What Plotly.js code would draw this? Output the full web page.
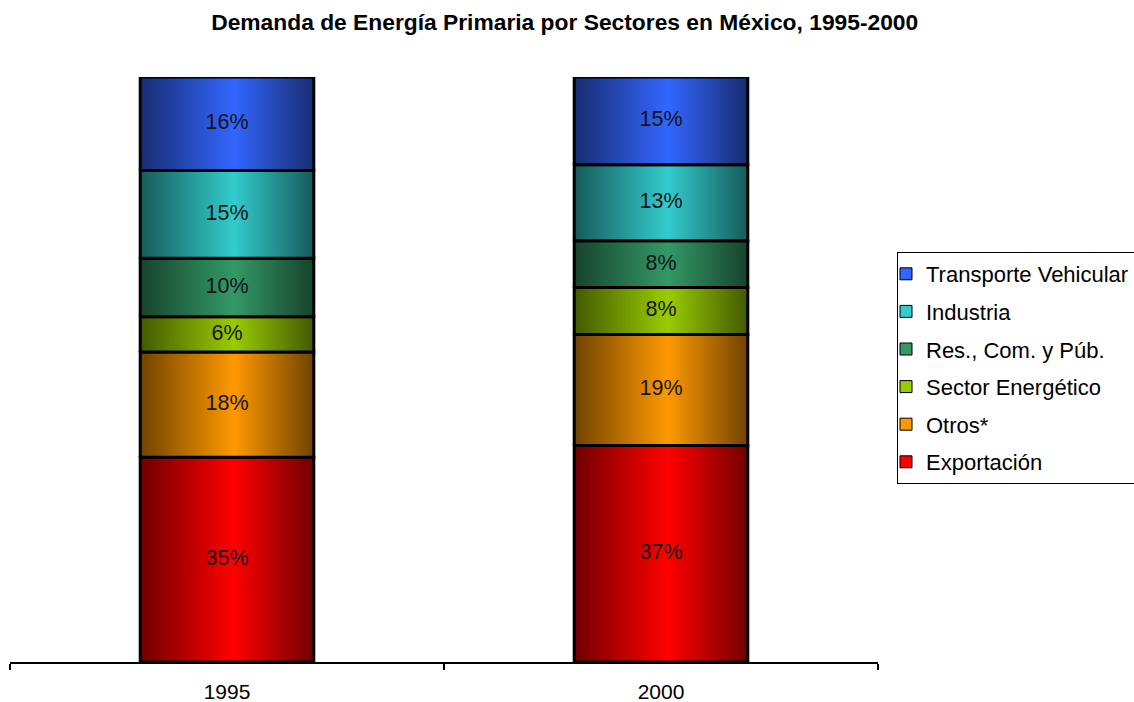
<!DOCTYPE html>
<html>
<head>
<meta charset="utf-8">
<script src="https://cdn.plot.ly/plotly-3.0.1.min.js"></script>
<style>html,body{margin:0;padding:0;background:#fff;}#chart{width:1134px;height:702px;}</style>
</head>
<body>
<div id="chart"></div>
<script>
const categories = ['1995', '2000'];
const seriesNames = ['Exportación', 'Otros*', 'Sector Energético', 'Res., Com. y Púb.', 'Industria', 'Transporte Vehicular'];
const exportacion = [35, 37];
const otros = [18, 19];
const sectorEnergetico = [6, 8];
const resComPub = [10, 8];
const industria = [15, 13];
const transporte = [16, 15];
const seriesValues = [exportacion, otros, sectorEnergetico, resComPub, industria, transporte];

const brightColors = ['#ff0000', '#ff9900', '#99cc00', '#339966', '#33cccc', '#3366ff'];
const darkColors = ['#700000', '#704300', '#435a00', '#17432d', '#175a5a', '#172d70'];

const FONT = 'Liberation Sans, Arial, sans-serif';
const barWidth = 0.4;
const traces = [];

// data bars (provide the legend)
seriesNames.forEach((name, s) => {
  traces.push({
    type: 'bar',
    name: name,
    legendgroup: name,
    legendrank: seriesNames.length - s,
    x: categories.map((c, i) => i),
    y: seriesValues[s],
    width: barWidth,
    marker: {color: brightColors[s], line: {color: '#000', width: 1}},
    hoverinfo: 'skip'
  });
});

// gradient overlays, one per segment
const bases = categories.map(() => 0);
const textX = [], textY = [], textT = [];
seriesNames.forEach((name, s) => {
  categories.forEach((c, i) => {
    const v = seriesValues[s][i];
    const b = bases[i];
    const t = b + v;
    traces.push({
      type: 'scatter',
      mode: 'lines',
      x: [i - barWidth / 2, i + barWidth / 2, i + barWidth / 2, i - barWidth / 2, i - barWidth / 2],
      y: [b, b, t, t, b],
      fill: 'toself',
      fillgradient: {
        type: 'horizontal',
        colorscale: [[0, darkColors[s]], [0.54, brightColors[s]], [1, darkColors[s]]]
      },
      line: {color: '#000', width: 3},
      showlegend: false,
      hoverinfo: 'skip'
    });
    textX.push(i);
    textY.push(b + v / 2);
    textT.push(v + '%');
    bases[i] = t;
  });
});

traces.push({
  type: 'scatter',
  mode: 'text',
  xaxis: 'x2',
  x: textX,
  y: textY,
  text: textT,
  textfont: {family: FONT, size: 21.5, color: '#151515'},
  showlegend: false,
  hoverinfo: 'skip'
});

const layout = {
  width: 1134,
  height: 702,
  margin: {l: 10, r: 256, t: 77, b: 40},
  paper_bgcolor: '#ffffff',
  plot_bgcolor: '#ffffff',
  barmode: 'stack',
  showlegend: true,
  title: {
    text: 'Demanda de Energía Primaria por Sectores en México, 1995-2000',
    font: {family: FONT, size: 22.8, color: '#000', weight: 'bold'},
    x: 0.498, xanchor: 'center',
    y: 1 - 22 / 702, yanchor: 'middle'
  },
  xaxis: {
    range: [-0.5, 1.5],
    tickmode: 'array',
    tickvals: [-0.5, 0.5, 1.5],
    ticktext: ['', '', ''],
    ticks: 'outside',
    ticklen: 6,
    tickwidth: 1.5,
    tickcolor: '#000',
    showline: true,
    linecolor: '#000',
    linewidth: 1.5,
    showgrid: false,
    zeroline: false,
    fixedrange: true
  },
  xaxis2: {
    overlaying: 'x',
    anchor: 'y',
    side: 'bottom',
    range: [-0.5, 1.5],
    tickmode: 'array',
    tickvals: categories.map((c, i) => i),
    ticktext: categories,
    ticks: '',
    ticklabelstandoff: 15,
    showline: false,
    showgrid: false,
    zeroline: false,
    tickfont: {family: FONT, size: 21, color: '#000'},
    fixedrange: true
  },
  yaxis: {
    range: [0, 100],
    visible: false,
    showgrid: false,
    zeroline: false,
    fixedrange: true
  },
  legend: {
    xref: 'container', yref: 'container',
    x: 897 / 1134, xanchor: 'left',
    y: 1 - 252 / 702, yanchor: 'top',
    traceorder: 'grouped',
    tracegroupgap: 6,
    indentation: -12,
    bgcolor: '#ffffff',
    bordercolor: '#000',
    borderwidth: 1,
    font: {family: FONT, size: 22, color: '#000'}
  }
};

Plotly.newPlot('chart', traces, layout, {displayModeBar: false, staticPlot: true});
</script>
</body>
</html>
